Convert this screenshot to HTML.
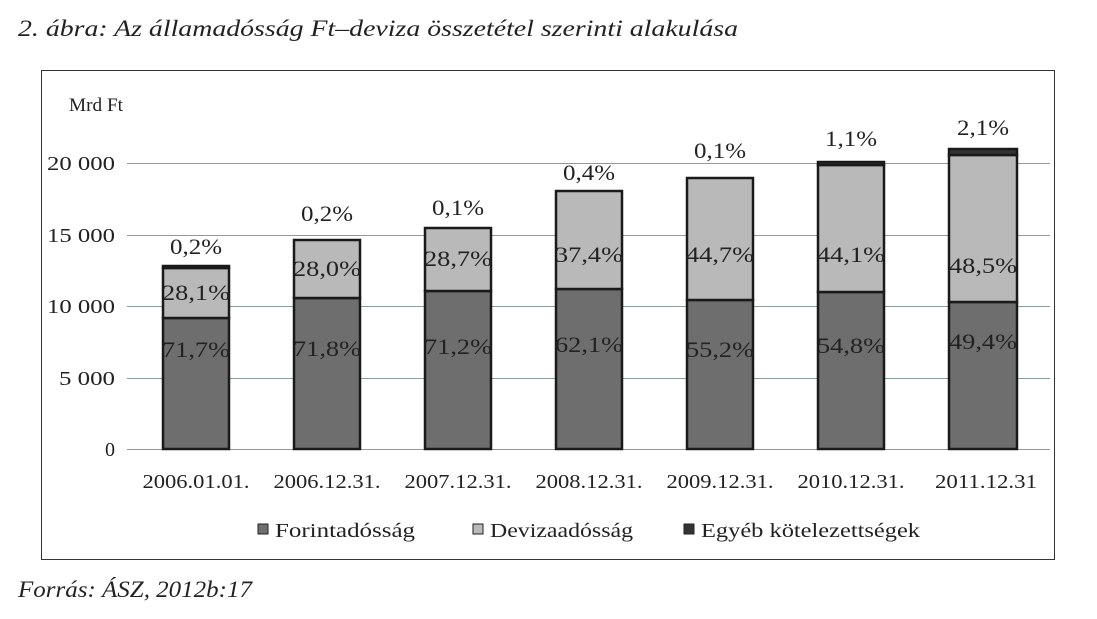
<!DOCTYPE html>
<html><head><meta charset="utf-8"><style>
body{margin:0;background:#fff;width:1097px;height:619px;overflow:hidden}
svg{display:block;font-family:"Liberation Serif",serif}
</style></head><body>
<svg width="1097" height="619" viewBox="0 0 1097 619">
<text x="18" y="36" font-size="23" font-style="italic" fill="#222" textLength="720" lengthAdjust="spacingAndGlyphs">2. ábra: Az államadósság Ft–deviza összetétel szerinti alakulása</text>
<rect x="41.5" y="70.5" width="1013" height="489" fill="none" stroke="#333" stroke-width="1"/>
<text x="69" y="111" font-size="19" fill="#222" textLength="54" lengthAdjust="spacingAndGlyphs">Mrd Ft</text>
<g stroke="#8e9b9b" stroke-width="1">
<line x1="127" y1="163.5" x2="1050" y2="163.5"/>
<line x1="127" y1="235.5" x2="1050" y2="235.5"/>
<line x1="127" y1="306.5" x2="1050" y2="306.5"/>
<line x1="127" y1="378.5" x2="1050" y2="378.5"/>
<line x1="127" y1="449.5" x2="1050" y2="449.5"/>
</g>
<g font-size="20" fill="#222">
<text x="47" y="170" textLength="68" lengthAdjust="spacingAndGlyphs">20 000</text>
<text x="47" y="242" textLength="68" lengthAdjust="spacingAndGlyphs">15 000</text>
<text x="47" y="313" textLength="68" lengthAdjust="spacingAndGlyphs">10 000</text>
<text x="59" y="385" textLength="56" lengthAdjust="spacingAndGlyphs">5 000</text>
<text x="115" y="456" text-anchor="end">0</text>
</g>
<g stroke="#1a1a1a" stroke-width="2.5">
<rect x="163" y="318" width="66" height="131" fill="#6e6e6e"/><rect x="163" y="268" width="66" height="50" fill="#b9b9b9"/><rect x="163" y="266" width="66" height="2" fill="#333"/>
<rect x="294" y="298" width="66" height="151" fill="#6e6e6e"/><rect x="294" y="240" width="66" height="58" fill="#b9b9b9"/>
<rect x="425" y="291" width="66" height="158" fill="#6e6e6e"/><rect x="425" y="228" width="66" height="63" fill="#b9b9b9"/>
<rect x="556" y="289" width="66" height="160" fill="#6e6e6e"/><rect x="556" y="191" width="66" height="98" fill="#b9b9b9"/>
<rect x="687" y="300" width="66" height="149" fill="#6e6e6e"/><rect x="687" y="178" width="66" height="122" fill="#b9b9b9"/>
<rect x="818" y="292" width="66" height="157" fill="#6e6e6e"/><rect x="818" y="165" width="66" height="127" fill="#b9b9b9"/><rect x="818" y="162" width="66" height="3" fill="#333"/>
<rect x="949" y="302" width="68" height="147" fill="#6e6e6e"/><rect x="949" y="155" width="68" height="147" fill="#b9b9b9"/><rect x="949" y="149" width="68" height="6" fill="#333"/>
</g>
<g font-size="22" fill="#222" text-anchor="middle">
<text x="196" y="357" textLength="68" lengthAdjust="spacingAndGlyphs">71,7%</text><text x="196" y="300" textLength="68" lengthAdjust="spacingAndGlyphs">28,1%</text><text x="196" y="254" textLength="52" lengthAdjust="spacingAndGlyphs">0,2%</text>
<text x="327" y="356" textLength="68" lengthAdjust="spacingAndGlyphs">71,8%</text><text x="327" y="276" textLength="68" lengthAdjust="spacingAndGlyphs">28,0%</text><text x="327" y="221" textLength="52" lengthAdjust="spacingAndGlyphs">0,2%</text>
<text x="458" y="354" textLength="68" lengthAdjust="spacingAndGlyphs">71,2%</text><text x="458" y="266" textLength="68" lengthAdjust="spacingAndGlyphs">28,7%</text><text x="458" y="215" textLength="52" lengthAdjust="spacingAndGlyphs">0,1%</text>
<text x="589" y="352" textLength="68" lengthAdjust="spacingAndGlyphs">62,1%</text><text x="589" y="262" textLength="68" lengthAdjust="spacingAndGlyphs">37,4%</text><text x="589" y="180" textLength="52" lengthAdjust="spacingAndGlyphs">0,4%</text>
<text x="720" y="357" textLength="68" lengthAdjust="spacingAndGlyphs">55,2%</text><text x="720" y="262" textLength="68" lengthAdjust="spacingAndGlyphs">44,7%</text><text x="720" y="158" textLength="52" lengthAdjust="spacingAndGlyphs">0,1%</text>
<text x="851" y="353" textLength="68" lengthAdjust="spacingAndGlyphs">54,8%</text><text x="851" y="262" textLength="68" lengthAdjust="spacingAndGlyphs">44,1%</text><text x="851" y="146" textLength="52" lengthAdjust="spacingAndGlyphs">1,1%</text>
<text x="983" y="349" textLength="68" lengthAdjust="spacingAndGlyphs">49,4%</text><text x="983" y="273" textLength="68" lengthAdjust="spacingAndGlyphs">48,5%</text><text x="983" y="135" textLength="52" lengthAdjust="spacingAndGlyphs">2,1%</text>
</g>
<g font-size="20" fill="#222" text-anchor="middle">
<text x="196" y="488" textLength="107" lengthAdjust="spacingAndGlyphs">2006.01.01.</text><text x="327" y="488" textLength="107" lengthAdjust="spacingAndGlyphs">2006.12.31.</text><text x="458" y="488" textLength="107" lengthAdjust="spacingAndGlyphs">2007.12.31.</text><text x="589" y="488" textLength="107" lengthAdjust="spacingAndGlyphs">2008.12.31.</text><text x="720" y="488" textLength="107" lengthAdjust="spacingAndGlyphs">2009.12.31.</text><text x="851" y="488" textLength="107" lengthAdjust="spacingAndGlyphs">2010.12.31.</text><text x="986" y="488" textLength="102" lengthAdjust="spacingAndGlyphs">2011.12.31</text>
</g>
<g font-size="20" fill="#222">
<rect x="258" y="524" width="10" height="10" fill="#6e6e6e" stroke="#222"/><text x="275" y="537" textLength="140" lengthAdjust="spacingAndGlyphs">Forintadósság</text>
<rect x="473" y="524" width="10" height="10" fill="#b9b9b9" stroke="#222"/><text x="490" y="537" textLength="143" lengthAdjust="spacingAndGlyphs">Devizaadósság</text>
<rect x="684" y="524" width="10" height="10" fill="#333" stroke="#222"/><text x="701" y="537" textLength="219" lengthAdjust="spacingAndGlyphs">Egyéb kötelezettségek</text>
</g>
<text x="18" y="597" font-size="23" font-style="italic" fill="#222" textLength="234" lengthAdjust="spacingAndGlyphs">Forrás: ÁSZ, 2012b:17</text>
</svg>
</body></html>
